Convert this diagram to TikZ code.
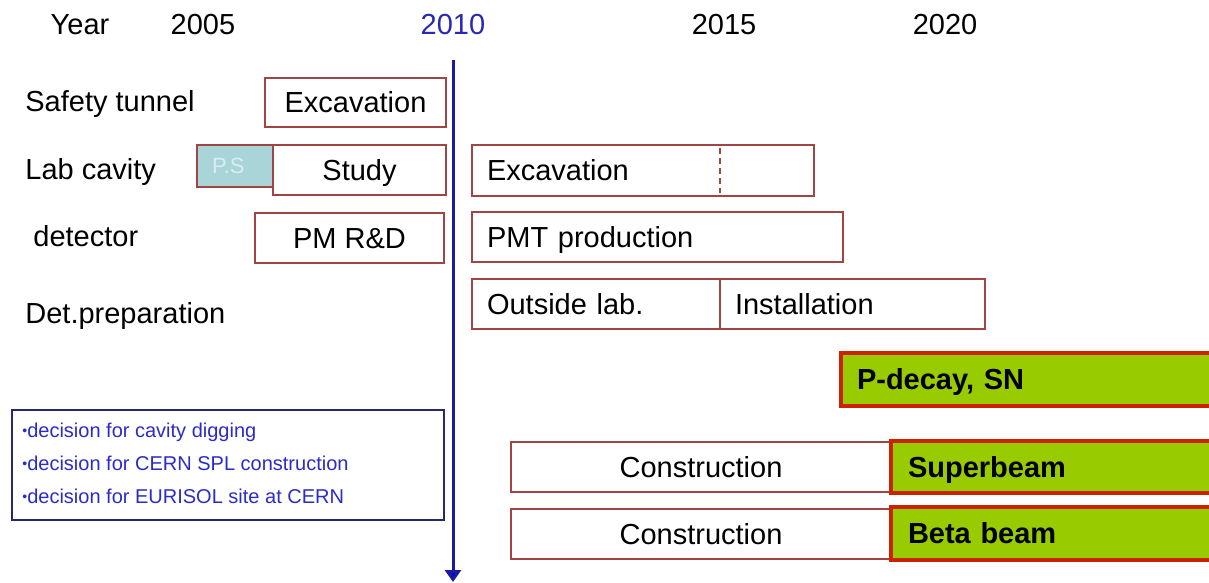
\documentclass[tikz,border=0pt]{standalone}
\usepackage{fontspec}
\setmainfont{Liberation Sans}
\usetikzlibrary{arrows.meta}
\definecolor{boxred}{HTML}{A04444}
\definecolor{greenfill}{HTML}{99CC00}
\definecolor{greenborder}{HTML}{CC2200}
\definecolor{psfill}{HTML}{A9D5D9}
\definecolor{pstext}{HTML}{D8EEF0}
\definecolor{bluetext}{HTML}{2B2BC8}
\definecolor{blueborder}{HTML}{28286E}
\definecolor{arrowblue}{HTML}{1C1CA0}
\definecolor{yearblue}{HTML}{2828B4}
\begin{document}
\begin{tikzpicture}[x=0.5pt,y=-0.5pt,
  bigfont/.style={font=\fontsize{14.5}{17}\selectfont},
  lbl/.style={bigfont,anchor=base west,inner sep=0pt},
  yr/.style={bigfont,anchor=base,inner sep=0pt},
  box/.style={draw=boxred,line width=1pt,inner ysep=0pt,inner xsep=0pt,
    text height=10.4pt,text depth=0pt,bigfont,fill=white},
  lbox/.style={box,inner xsep=7.5pt,align=left},
  gbox/.style={draw=greenborder,fill=greenfill,line width=2pt,inner ysep=0pt,
    inner xsep=8.5pt,align=left,text height=10.4pt,text depth=0pt,
    font=\fontsize{14.5}{17}\selectfont\bfseries},
  note/.style={font=\fontsize{10}{12}\selectfont,text=bluetext,anchor=base west,inner sep=0pt}
]
\useasboundingbox (0,0) rectangle (1209,583);
% header
\node[yr] (year) at (80,35) {Year};
\node[yr] (y2005) at (203,35) {2005};
\node[yr,text=yearblue] (y2010) at (453,35) {2010};
\node[yr] (y2015) at (724,35) {2015};
\node[yr] (y2020) at (945,35) {2020};
% row labels
\node[lbl] (safety) at (25,112) {Safety tunnel};
\node[lbl] (lab) at (25,179) {Lab cavity};
\node[lbl] (det) at (33,246) {detector};
\node[lbl] (detprep) at (25,323) {Det.preparation};
% safety tunnel
\node[box,minimum width=90.5pt,minimum height=24.5pt] (sexc) at (355.5,102.5) {Excavation};
% lab cavity
\node[draw=boxred,fill=psfill,line width=0.8pt,minimum width=38pt,minimum height=21pt,
  inner xsep=7.5pt,inner ysep=0pt,text width=23pt,align=left,text=pstext,
  font=\fontsize{11}{13}\selectfont] (ps) at (235,166) {P.S};
\node[box,minimum width=86.5pt,minimum height=25pt] (study) at (359.5,170) {Study};
\node[lbox,minimum height=25.5pt,text width=156pt] (lexc) at (643,170.5) {Excavation};
\coordinate (dtop) at (720,148);
\coordinate (dbot) at (720,193);
\draw[boxred,line width=0.8pt,dash pattern=on 3pt off 2pt] (dtop) -- (dbot);
% detector
\node[box,minimum width=94.5pt,minimum height=25pt] (pmrd) at (349.5,238) {PM R\&D};
\node[lbox,minimum height=25pt,text width=170.5pt] (pmt) at (657.5,237) {PMT production};
% det preparation
\node[lbox,minimum height=25pt,text width=109pt] (outside) at (596,304) {Outside lab.};
\node[lbox,minimum height=25pt,text width=117.5pt] (install) at (852.5,304) {Installation};
% physics
\node[gbox,inner xsep=8pt,minimum height=26.5pt,text width=171pt] (pdecay) at (1028,379.5) {P-decay, SN};
% construction
\node[box,minimum width=190pt,minimum height=25pt] (cons1) at (701,467) {Construction};
\node[gbox,minimum height=26pt,text width=145pt] (superbeam) at (1053,467) {Superbeam};
\node[box,minimum width=190pt,minimum height=25pt] (cons2) at (701,534) {Construction};
\node[gbox,minimum height=26.5pt,text width=145pt] (betabeam) at (1053,533.5) {Beta beam};
% decisions
\node[draw=blueborder,line width=1pt,minimum width=216pt,minimum height=55pt,inner sep=0pt] (decbox) at (228,465) {};
\node[note] (d1) at (22,437) {{\fontsize{7}{8}\selectfont\raisebox{0.6pt}{•}}decision for cavity digging};
\node[note] (d2) at (22,470) {{\fontsize{7}{8}\selectfont\raisebox{0.6pt}{•}}decision for CERN SPL construction};
\node[note] (d3) at (22,503) {{\fontsize{7}{8}\selectfont\raisebox{0.6pt}{•}}decision for EURISOL site at CERN};
% time arrow
\coordinate (atop) at (453,60);
\coordinate (abot) at (453,582);
\draw[arrowblue,line width=1.5pt,-{Triangle[width=8pt,length=6pt,fill=blue!85!black]}] (atop) -- (abot);
\end{tikzpicture}
\end{document}
